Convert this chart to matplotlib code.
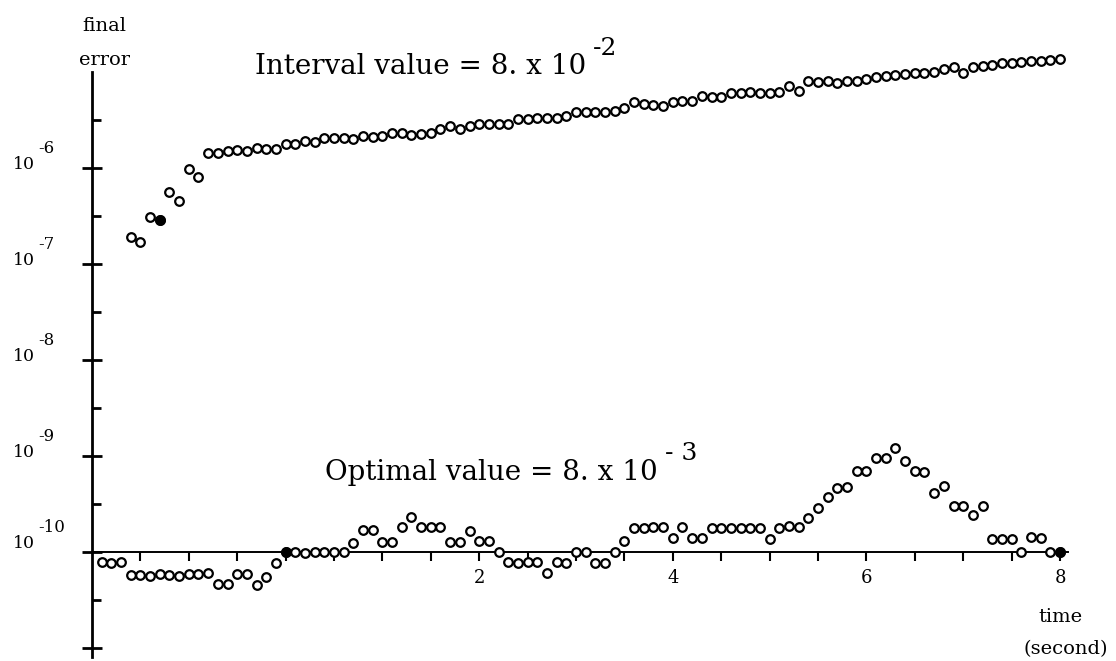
import numpy as np
import matplotlib
matplotlib.use("Agg")
import matplotlib.pyplot as plt
from matplotlib.ticker import NullFormatter, NullLocator

# ---------------- data ----------------
# sample times (s): both series are sampled every 0.1 s
t_optimal = np.round(np.arange(-1.9, 8.001, 0.1), 1)    # 100 samples
t_interval = np.round(np.arange(-1.6, 8.001, 0.1), 1)   # 97 samples

# log10(final error), optimal value = 8e-3
optimal_log_err = [
    -10.11, -10.12, -10.11, -10.24, -10.24, -10.26, -10.23, -10.24, -10.26, -10.23,
    -10.23, -10.22, -10.34, -10.34, -10.23, -10.23, -10.35, -10.27, -10.12, -10.01,
    -10.01, -10.02, -10.01, -10.01, -10.01, -10.01, -9.91, -9.78, -9.78, -9.90,
    -9.90, -9.74, -9.64, -9.74, -9.74, -9.74, -9.90, -9.90, -9.79, -9.89,
    -9.89, -10.01, -10.11, -10.12, -10.11, -10.11, -10.22, -10.11, -10.12, -10.01,
    -10.00, -10.12, -10.12, -10.01, -9.89, -9.76, -9.76, -9.74, -9.74, -9.86,
    -9.74, -9.86, -9.86, -9.76, -9.76, -9.76, -9.76, -9.76, -9.76, -9.87,
    -9.76, -9.73, -9.74, -9.65, -9.55, -9.43, -9.34, -9.33, -9.16, -9.16,
    -9.03, -9.03, -8.92, -9.06, -9.16, -9.17, -9.39, -9.32, -9.53, -9.53,
    -9.62, -9.53, -9.87, -9.87, -9.87, -10.00, -9.85, -9.86, -10.00, -10.00,
]

# log10(final error), interval value = 8e-2
interval_log_err = [
    -6.72, -6.78, -6.52, -6.55, -6.26, -6.35, -6.02, -6.10, -5.85, -5.85,
    -5.83, -5.82, -5.83, -5.80, -5.81, -5.81, -5.75, -5.75, -5.72, -5.73,
    -5.69, -5.69, -5.69, -5.70, -5.67, -5.68, -5.67, -5.64, -5.64, -5.66,
    -5.65, -5.64, -5.60, -5.57, -5.60, -5.57, -5.55, -5.55, -5.55, -5.55,
    -5.49, -5.49, -5.48, -5.48, -5.48, -5.46, -5.42, -5.42, -5.42, -5.42,
    -5.41, -5.38, -5.32, -5.34, -5.35, -5.36, -5.32, -5.31, -5.31, -5.26,
    -5.27, -5.27, -5.22, -5.22, -5.21, -5.22, -5.22, -5.21, -5.15, -5.20,
    -5.10, -5.11, -5.10, -5.12, -5.10, -5.10, -5.08, -5.06, -5.05, -5.04,
    -5.03, -5.02, -5.02, -5.01, -4.97, -4.95, -5.02, -4.95, -4.94, -4.93,
    -4.91, -4.91, -4.90, -4.89, -4.89, -4.88, -4.87,
]

# a few samples are printed as filled dots in the original
optimal_filled_t = [0.0, 8.0]
interval_filled_t = [-1.3]

x_major_ticks = list(np.arange(-1.5, 8.01, 0.5))
x_labeled = {2.0: "2", 4.0: "4", 6.0: "6", 8.0: "8"}
y_label_exps = [-6, -7, -8, -9, -10]
y_major_exps = [-11, -10, -9, -8, -7, -6]
y_minor_exps = [-10.5, -9.5, -8.5, -7.5, -6.5, -5.5]

# ---------------- figure ----------------
plt.rcParams["font.family"] = ["DejaVu Serif", "DejaVu Sans"]
W, H = 1116, 661
fig = plt.figure(figsize=(W / 100, H / 100), dpi=100)
ax = fig.add_axes([0, 0, 1, 1])
ax.set_yscale("log")
ax.set_xlim(-2.9504, 8.5785)
ax.set_ylim(10 ** -11.1406, 10 ** -4.2552)

opt_err = 10.0 ** np.array(optimal_log_err)
int_err = 10.0 ** np.array(interval_log_err)

mk = dict(marker="o", linestyle="none", markersize=6.2, markeredgewidth=1.6,
          markeredgecolor="black", zorder=3)
ax.plot(t_optimal, opt_err, markerfacecolor="white", **mk)
ax.plot(t_interval, int_err, markerfacecolor="white", **mk)
fo = np.isin(t_optimal, optimal_filled_t)
fi = np.isin(t_interval, interval_filled_t)
ax.plot(t_optimal[fo], opt_err[fo], markerfacecolor="black", **mk)
ax.plot(t_interval[fi], int_err[fi], markerfacecolor="black", **mk)

# axes lines
for s in ("top", "right"):
    ax.spines[s].set_visible(False)
ax.spines["left"].set_position(("data", -2.0))
ax.spines["left"].set_bounds(10 ** -11.10, 10 ** -5.0)
ax.spines["left"].set_linewidth(2.0)
ax.spines["bottom"].set_position(("data", 1e-10))
ax.spines["bottom"].set_bounds(-2.0, 8.08)
ax.spines["bottom"].set_linewidth(1.4)

ax.set_xticks(x_major_ticks)
ax.set_xticklabels([x_labeled.get(round(v, 1), "") for v in x_major_ticks])
ax.xaxis.set_minor_locator(NullLocator())
ax.tick_params(axis="x", which="major", direction="out", length=6.5, width=1.5,
               pad=6, labelsize=13)

ax.set_yticks([10.0 ** e for e in y_major_exps])
ax.set_yticks([10.0 ** e for e in y_minor_exps], minor=True)
ax.yaxis.set_major_formatter(NullFormatter())
ax.yaxis.set_minor_formatter(NullFormatter())
ax.tick_params(axis="y", which="major", direction="inout", length=14, width=2.0)
ax.tick_params(axis="y", which="minor", direction="in", length=6.5, width=2.0)

# y tick labels written as "10" with a raised exponent, as in the original
for e in y_label_exps:
    dy = 8 if e == -10 else 3
    ax.annotate("10", xy=(-2.0, 10.0 ** e), xytext=(-57, dy), textcoords="offset pixels",
                ha="right", va="center", fontsize=12.5)
    ax.annotate(f"{e}", xy=(-2.0, 10.0 ** e), xytext=(-54, dy + 16),
                textcoords="offset pixels", ha="left", va="center", fontsize=12)

# axis titles
def fx(px):
    return px / W

def fy(py):
    return 1 - py / H

fig.text(fx(104), fy(26), "final", ha="center", va="center", fontsize=14)
fig.text(fx(104), fy(60), "error", ha="center", va="center", fontsize=14)
fig.text(fx(1060), fy(617), "time", ha="center", va="center", fontsize=14)
fig.text(fx(1066), fy(649), "(second)", ha="center", va="center", fontsize=14)

# annotations
fig.canvas.draw()
renderer = fig.canvas.get_renderer()
t1 = fig.text(fx(421), fy(74), "Interval value = 8. x 10", ha="center", va="baseline",
              fontsize=20)
t2 = fig.text(fx(491), fy(480), "Optimal value = 8. x 10", ha="center", va="baseline",
              fontsize=20)
bb1 = t1.get_window_extent(renderer)
bb2 = t2.get_window_extent(renderer)
fig.text((bb1.x1 + 6) / W, fy(55), "-2", ha="left", va="baseline", fontsize=18)
fig.text((bb2.x1 + 8) / W, fy(460), "- 3", ha="left", va="baseline", fontsize=18)

fig.savefig("out.png", dpi=100, facecolor="white")
